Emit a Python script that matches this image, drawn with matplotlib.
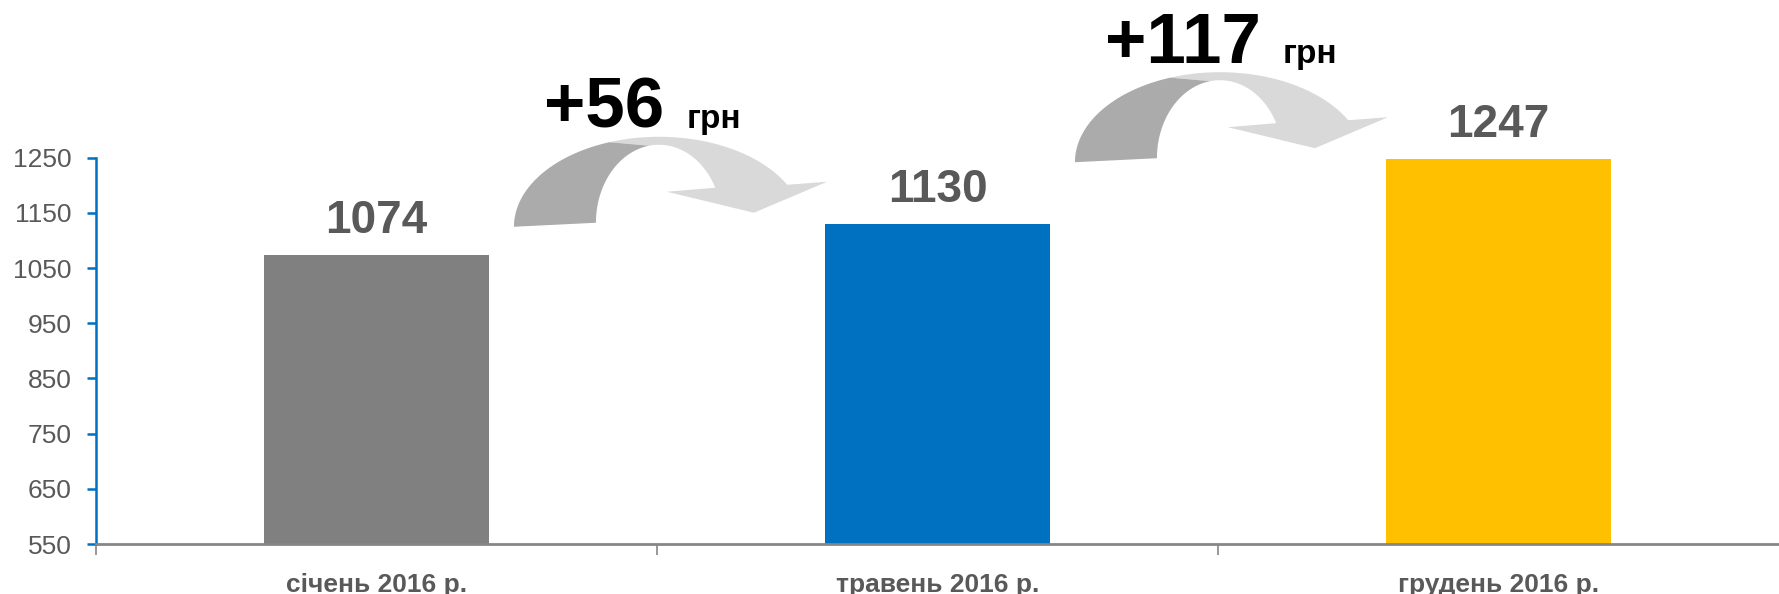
import matplotlib
matplotlib.use("Agg")
import matplotlib.pyplot as plt
import matplotlib.transforms as mtransforms
from matplotlib.patches import Polygon
import numpy as np

plt.rcParams["font.family"] = ["Liberation Sans", "DejaVu Sans"]

# data
categories = ["січень 2016 р.", "травень 2016 р.", "грудень 2016 р."]
values = [1074, 1130, 1247]
bar_colors = ["#808080", "#0070C0", "#FFC000"]
yticks = [550, 650, 750, 850, 950, 1050, 1150, 1250]
unit = "грн"

TEXT_GREY = "#595959"
AXIS_BLUE = "#0070C0"
AXIS_GREY = "#868686"

fig = plt.figure(figsize=(17.79, 5.94), dpi=100)
ax = fig.add_axes([96 / 1779, 50 / 594, 1683 / 1779, 544 / 594])

x = np.arange(len(categories))
ax.bar(x, values, width=0.40, color=bar_colors, zorder=2)
ax.set_xlim(-0.5, len(categories) - 0.5)
ax.set_ylim(550, 1536)

# spines
for s in ("top", "right"):
    ax.spines[s].set_visible(False)
ax.spines["left"].set_bounds(550, 1250)
ax.spines["left"].set_color(AXIS_BLUE)
ax.spines["left"].set_linewidth(1.8)
ax.spines["bottom"].set_color(AXIS_GREY)
ax.spines["bottom"].set_linewidth(2.0)
ax.spines["bottom"].set_zorder(3)

ax.set_yticks(yticks)
ax.tick_params(axis="y", colors=AXIS_BLUE, length=6.5, width=1.8,
               labelsize=19, labelcolor=TEXT_GREY, pad=11)

ax.set_xticks(x)
ax.set_xticklabels(categories, fontsize=19, fontweight="bold",
                   color=TEXT_GREY)
ax.tick_params(axis="x", which="major", length=0, pad=21)
ax.set_xticks(np.arange(-0.5, len(categories) - 0.5), minor=True)
ax.tick_params(axis="x", which="minor", length=8, width=1.2,
               color=AXIS_GREY)

# value labels
for xi, v in zip(x, values):
    ax.annotate(f"{v}", xy=(xi, v), xytext=(0, 22),
                textcoords="offset pixels", ha="center", va="baseline",
                fontsize=33, fontweight="bold", color=TEXT_GREY)


# curved arrow, shape in pixels relative to the outer foot (y up)
def outer(th):
    return np.column_stack([145 + 145 * np.cos(th), 90 * np.sin(th)])


def inner(th):
    return np.column_stack([145 + 63 * np.cos(th), 4 + 78 * np.sin(th)])


def rad(a, b, n=60):
    return np.radians(np.linspace(a, b, n))


dark_pts = np.vstack([outer(rad(180, 110)), inner(rad(99, 180))])
head = np.array([[313, 45], [240, 14], [153, 35]])
light_pts = np.vstack([outer(rad(110, 27.8)), head, inner(rad(26.7, 99))])

renderer = fig.canvas.get_renderer()
for i in range(len(values) - 1):
    anchor = (x[i] + 0.245, values[i + 1] - 5)
    tr = mtransforms.Affine2D() + mtransforms.ScaledTranslation(
        anchor[0], anchor[1], ax.transData)
    ax.add_patch(Polygon(light_pts, closed=True, facecolor="#D9D9D9",
                         edgecolor="none", transform=tr, clip_on=False,
                         zorder=3))
    ax.add_patch(Polygon(dark_pts, closed=True, facecolor="#ABABAB",
                         edgecolor="none", transform=tr, clip_on=False,
                         zorder=4))
    big = ax.text(30, 99, f"+{values[i + 1] - values[i]}", transform=tr,
                  ha="left", va="baseline", fontsize=51,
                  fontweight="bold", color="black", zorder=5)
    bb = big.get_window_extent(renderer)
    bx, by = tr.transform((30, 99))
    ax.text(bb.x1 + 22, by, unit, transform=mtransforms.IdentityTransform(),
            ha="left", va="baseline", fontsize=24, fontweight="bold",
            color="black", zorder=5)

fig.savefig("out.png", dpi=100)
